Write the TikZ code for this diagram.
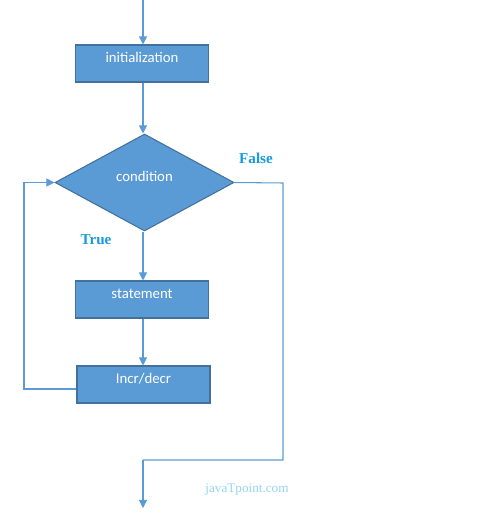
\documentclass[tikz,border=0pt]{standalone}
\usepackage{fontspec}
\setmainfont{Carlito}
\newfontfamily\labelfont{Liberation Serif}
\usetikzlibrary{arrows.meta, shapes.geometric}
\definecolor{boxfill}{HTML}{5B9BD5}
\definecolor{boxline}{HTML}{41719C}
\definecolor{labelblue}{HTML}{149BDF}
\definecolor{markcol}{HTML}{93D6EE}

\begin{document}
\begin{tikzpicture}[x=0.02cm, y=-0.02cm,
	flow/.style={draw=boxfill, line width=0.6pt, -{Triangle[width=4.6pt,length=4.6pt]}},
	plain/.style={draw=boxfill, line width=0.6pt},
	block/.style={rectangle, fill=boxfill, draw=boxline, line width=0.6pt, text=white,
		minimum width=2.66cm, minimum height=0.74cm, inner sep=0pt,
		text height=1.7ex, text depth=1.9ex, font=\fontsize{8.4}{10}\selectfont},
	decide/.style={diamond, fill=boxfill, draw=boxline, line width=0.6pt, text=white,
		minimum width=3.58cm, minimum height=1.94cm, inner sep=0pt,
		text height=1.7ex, text depth=2.0ex, font=\fontsize{8.4}{10}\selectfont},
	tag/.style={text=labelblue, font=\labelfont\bfseries\fontsize{8.6}{10}\selectfont}]
	\useasboundingbox (0,0) rectangle (476,523);
		\coordinate (start) at (143,0);
		\node[block] (init) at (142,63.5) {initialization};
		\node[decide] (cond) at (144.5,182.5) {condition};
		\node[block] (stmt) at (142,299.5) {statement};
		\node[block] (incr) at (143.5,384.5) {Incr/decr};
		\coordinate (back) at (24,389);
		\coordinate (side) at (283,183);
		\coordinate (low) at (283,460);
		\coordinate (stop) at (143,508);
% main flow
		\draw[flow] (start) -- (start |- init.north);
		\draw[flow] (init.south -| start) -- (start |- cond.north);
		\draw[flow] (cond.south -| start) -- (start |- stmt.north);
		\draw[flow] (stmt.south -| start) -- (start |- incr.north);
% loop back and exit
		\draw[flow] (incr.west |- back) -- (back) |- (cond.west);
		\draw[plain] (cond.east) -- (side) -- (low) -- (low -| stop);
		\draw[flow] (low -| stop) -- (stop);
		\node[tag] (false) at (256,158) {False};
		\node[tag] (true) at (96,240) {True};
		\node[text=markcol, font=\labelfont\fontsize{7.5}{9}\selectfont] (mark) at (247,490) {javaTpoint.com};
\end{tikzpicture}
\end{document}
